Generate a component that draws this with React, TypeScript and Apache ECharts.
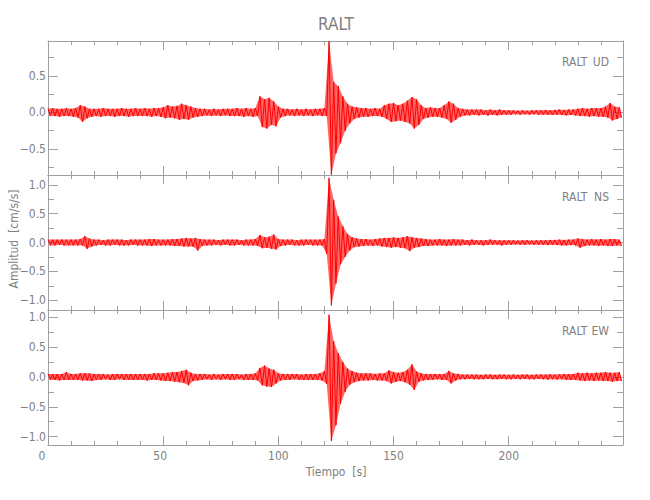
import React, { useEffect, useRef } from "react";
import * as echarts from "echarts";

// Envelope of each trace: peak (max) and trough (min) amplitude per 2-second window, t = 0, 2, 4 ... 248 s
const BIN_SECONDS = 2;

const UD_MAX = [
  0.05, 0.06, 0.05, 0.05, 0.06, 0.05, 0.06, 0.10, 0.08, 0.05,
  0.05, 0.05, 0.06, 0.05, 0.05, 0.05, 0.06, 0.05, 0.05, 0.06,
  0.05, 0.06, 0.05, 0.06, 0.06, 0.07, 0.10, 0.08, 0.09, 0.12,
  0.10, 0.08, 0.06, 0.05, 0.05, 0.04, 0.05, 0.04, 0.05, 0.05,
  0.05, 0.06, 0.05, 0.06, 0.05, 0.06, 0.22, 0.18, 0.20, 0.15,
  0.08, 0.05, 0.05, 0.04, 0.05, 0.04, 0.05, 0.04, 0.05, 0.05,
  0.06, 0.97, 0.42, 0.36, 0.22, 0.12, 0.08, 0.07, 0.06, 0.06,
  0.05, 0.06, 0.05, 0.10, 0.12, 0.13, 0.10, 0.12, 0.16, 0.21,
  0.18, 0.10, 0.06, 0.07, 0.06, 0.06, 0.10, 0.15, 0.12, 0.06,
  0.05, 0.04, 0.04, 0.04, 0.04, 0.03, 0.04, 0.03, 0.04, 0.03,
  0.03, 0.03, 0.025, 0.03, 0.025, 0.03, 0.03, 0.03, 0.035, 0.03,
  0.035, 0.04, 0.035, 0.04, 0.04, 0.05, 0.06, 0.05, 0.06, 0.06,
  0.06, 0.08, 0.13, 0.08, 0.07,
];
const UD_MIN = [
  -0.05, -0.05, -0.06, -0.05, -0.05, -0.06, -0.07, -0.13, -0.08, -0.06,
  -0.05, -0.06, -0.05, -0.05, -0.06, -0.05, -0.05, -0.06, -0.05, -0.05,
  -0.05, -0.05, -0.06, -0.05, -0.06, -0.08, -0.07, -0.08, -0.10, -0.09,
  -0.10, -0.07, -0.06, -0.05, -0.04, -0.05, -0.04, -0.05, -0.04, -0.05,
  -0.05, -0.05, -0.06, -0.05, -0.06, -0.05, -0.20, -0.22, -0.17, -0.19,
  -0.07, -0.05, -0.04, -0.05, -0.04, -0.05, -0.04, -0.05, -0.04, -0.05,
  -0.05, -0.85, -0.56, -0.42, -0.25, -0.15, -0.09, -0.07, -0.06, -0.06,
  -0.05, -0.05, -0.06, -0.09, -0.13, -0.12, -0.11, -0.13, -0.15, -0.22,
  -0.17, -0.09, -0.07, -0.06, -0.06, -0.07, -0.09, -0.14, -0.10, -0.06,
  -0.04, -0.04, -0.03, -0.04, -0.03, -0.04, -0.03, -0.04, -0.03, -0.03,
  -0.03, -0.025, -0.03, -0.025, -0.03, -0.025, -0.03, -0.03, -0.03, -0.035,
  -0.03, -0.035, -0.04, -0.035, -0.04, -0.05, -0.05, -0.06, -0.05, -0.06,
  -0.06, -0.07, -0.11, -0.09, -0.07,
];

const NS_MAX = [
  0.05, 0.05, 0.05, 0.05, 0.05, 0.05, 0.05, 0.06, 0.11, 0.07,
  0.05, 0.05, 0.04, 0.05, 0.05, 0.05, 0.05, 0.04, 0.05, 0.05,
  0.05, 0.05, 0.06, 0.06, 0.05, 0.05, 0.05, 0.06, 0.06, 0.07,
  0.08, 0.07, 0.08, 0.06, 0.05, 0.05, 0.05, 0.04, 0.05, 0.05,
  0.05, 0.05, 0.04, 0.05, 0.05, 0.06, 0.13, 0.09, 0.10, 0.14,
  0.06, 0.05, 0.05, 0.05, 0.04, 0.05, 0.05, 0.05, 0.05, 0.05,
  0.06, 1.12, 0.74, 0.45, 0.28, 0.15, 0.09, 0.07, 0.06, 0.06,
  0.05, 0.06, 0.07, 0.08, 0.08, 0.09, 0.08, 0.09, 0.11, 0.09,
  0.08, 0.07, 0.06, 0.05, 0.05, 0.06, 0.05, 0.05, 0.06, 0.05,
  0.05, 0.04, 0.05, 0.04, 0.04, 0.04, 0.05, 0.04, 0.04, 0.04,
  0.04, 0.04, 0.035, 0.04, 0.04, 0.035, 0.04, 0.04, 0.04, 0.045,
  0.045, 0.05, 0.045, 0.05, 0.05, 0.07, 0.06, 0.05, 0.06, 0.05,
  0.06, 0.05, 0.06, 0.06, 0.05,
];
const NS_MIN = [
  -0.05, -0.05, -0.04, -0.05, -0.05, -0.05, -0.05, -0.05, -0.11, -0.07,
  -0.05, -0.04, -0.05, -0.05, -0.04, -0.05, -0.05, -0.05, -0.04, -0.05,
  -0.05, -0.05, -0.06, -0.05, -0.05, -0.05, -0.05, -0.06, -0.06, -0.07,
  -0.07, -0.07, -0.14, -0.06, -0.05, -0.05, -0.04, -0.05, -0.04, -0.05,
  -0.05, -0.04, -0.05, -0.05, -0.05, -0.06, -0.10, -0.09, -0.11, -0.12,
  -0.06, -0.05, -0.04, -0.05, -0.05, -0.05, -0.04, -0.05, -0.05, -0.05,
  -0.20, -1.09, -0.71, -0.38, -0.25, -0.14, -0.08, -0.07, -0.06, -0.05,
  -0.06, -0.05, -0.07, -0.08, -0.09, -0.08, -0.09, -0.10, -0.15, -0.09,
  -0.08, -0.06, -0.06, -0.05, -0.05, -0.05, -0.06, -0.05, -0.05, -0.05,
  -0.04, -0.05, -0.04, -0.04, -0.05, -0.04, -0.04, -0.04, -0.05, -0.04,
  -0.04, -0.035, -0.04, -0.04, -0.035, -0.04, -0.04, -0.04, -0.045, -0.04,
  -0.045, -0.05, -0.05, -0.045, -0.05, -0.09, -0.06, -0.05, -0.05, -0.06,
  -0.05, -0.06, -0.06, -0.05, -0.06,
];

const EW_MAX = [
  0.05, 0.05, 0.05, 0.05, 0.08, 0.05, 0.05, 0.06, 0.06, 0.06,
  0.05, 0.05, 0.05, 0.04, 0.05, 0.05, 0.05, 0.05, 0.05, 0.05,
  0.05, 0.05, 0.05, 0.06, 0.06, 0.06, 0.07, 0.08, 0.08, 0.10,
  0.12, 0.07, 0.05, 0.05, 0.05, 0.04, 0.05, 0.04, 0.05, 0.05,
  0.05, 0.05, 0.04, 0.05, 0.05, 0.06, 0.15, 0.19, 0.14, 0.12,
  0.06, 0.05, 0.05, 0.05, 0.05, 0.04, 0.05, 0.05, 0.05, 0.06,
  0.10, 1.04, 0.60, 0.40, 0.25, 0.14, 0.10, 0.07, 0.06, 0.06,
  0.06, 0.05, 0.06, 0.06, 0.11, 0.08, 0.07, 0.08, 0.12, 0.21,
  0.09, 0.06, 0.05, 0.05, 0.05, 0.05, 0.05, 0.10, 0.06, 0.05,
  0.04, 0.04, 0.04, 0.04, 0.035, 0.04, 0.04, 0.035, 0.04, 0.04,
  0.035, 0.04, 0.035, 0.04, 0.04, 0.035, 0.04, 0.04, 0.04, 0.045,
  0.04, 0.045, 0.05, 0.05, 0.05, 0.07, 0.06, 0.07, 0.06, 0.07,
  0.07, 0.08, 0.07, 0.07, 0.08,
];
const EW_MIN = [
  -0.05, -0.05, -0.06, -0.05, -0.05, -0.05, -0.05, -0.06, -0.06, -0.07,
  -0.05, -0.05, -0.04, -0.05, -0.05, -0.04, -0.05, -0.05, -0.05, -0.05,
  -0.05, -0.06, -0.05, -0.05, -0.06, -0.07, -0.07, -0.08, -0.09, -0.10,
  -0.14, -0.07, -0.06, -0.05, -0.04, -0.05, -0.04, -0.05, -0.04, -0.05,
  -0.05, -0.04, -0.05, -0.05, -0.05, -0.06, -0.14, -0.16, -0.17, -0.11,
  -0.06, -0.05, -0.05, -0.04, -0.05, -0.05, -0.05, -0.05, -0.05, -0.06,
  -0.12, -1.07, -0.81, -0.45, -0.25, -0.13, -0.09, -0.07, -0.06, -0.06,
  -0.05, -0.06, -0.06, -0.07, -0.11, -0.08, -0.07, -0.09, -0.13, -0.22,
  -0.08, -0.06, -0.05, -0.05, -0.04, -0.05, -0.05, -0.11, -0.06, -0.04,
  -0.04, -0.035, -0.04, -0.04, -0.04, -0.035, -0.04, -0.04, -0.035, -0.04,
  -0.04, -0.035, -0.04, -0.035, -0.04, -0.04, -0.035, -0.04, -0.045, -0.04,
  -0.045, -0.04, -0.05, -0.05, -0.05, -0.06, -0.07, -0.06, -0.07, -0.06,
  -0.07, -0.07, -0.08, -0.07, -0.07,
];

const STATION = "RALT";
const COMPONENTS = ["UD", "NS", "EW"];
const ENVELOPE_MAX = [UD_MAX, NS_MAX, EW_MAX];
const ENVELOPE_MIN = [UD_MIN, NS_MIN, EW_MIN];

// axis ranges (amplitude extent of each trace) and ticks
const TIME_MAX = 249.6;
const Y_MIN = [-0.855, -1.17, -1.14];
const Y_MAX = [0.977, 1.17, 1.12];
const Y_LABELS = [
  [-0.5, 0, 0.5],
  [-1, -0.5, 0, 0.5, 1],
  [-1, -0.5, 0, 0.5, 1],
];
const Y_MINOR = [
  [-0.75, -0.5, -0.25, 0, 0.25, 0.5, 0.75],
  [-1, -0.75, -0.5, -0.25, 0, 0.25, 0.5, 0.75, 1],
  [-1, -0.75, -0.5, -0.25, 0, 0.25, 0.5, 0.75, 1],
];
const X_LABELS = [0, 50, 100, 150, 200];
const X_MINOR = [0, 10, 20, 30, 40, 50, 60, 70, 80, 90, 100, 110, 120, 130, 140, 150, 160, 170, 180, 190, 200, 210, 220, 230, 240];

const TITLE = "RALT";
const Y_NAME = "Amplitud  [cm/s/s]";
const X_NAME = "Tiempo  [s]";

const FONT = "'Liberation Sans Narrow', 'DejaVu Sans Condensed', 'Liberation Sans', sans-serif";
const TEXT_COLOR = "#808080";
const AXIS_COLOR = "#a0a0a0";
const TRACE_COLOR = "#ff0000";
const BAND_COLOR = "rgba(255,0,0,0.6)";

const GRID_LEFT = 48;
const GRID_WIDTH = 575;
const GRID_TOPS = [41, 175, 310];
const GRID_HEIGHTS = [134, 135, 135];

function envelopeTrace(mx: number[], mn: number[]) {
  const out: number[][] = [];
  mx.forEach((v, i) => {
    out.push([i * BIN_SECONDS, v]);
    out.push([i * BIN_SECONDS + BIN_SECONDS / 2, mn[i]]);
  });
  return out;
}

function fmtY(v: number) {
  return (v < 0 ? "\u2212" : "") + Math.abs(v).toFixed(1);
}

export default function App() {
  const ref = useRef<HTMLDivElement>(null);

  useEffect(() => {
    document.body.style.margin = "0";
    if (!ref.current) return;
    const chart = echarts.init(ref.current, null, { renderer: "svg" });

    const grids: any[] = [];
    const xAxes: any[] = [];
    const yAxes: any[] = [];
    const series: any[] = [];

    COMPONENTS.forEach((comp, g) => {
      grids.push({
        left: GRID_LEFT,
        width: GRID_WIDTH,
        top: GRID_TOPS[g],
        height: GRID_HEIGHTS[g],
        containLabel: false,
        outerBoundsMode: "none",
      });

      const xBase = {
        type: "value",
        gridIndex: g,
        min: 0,
        max: TIME_MAX,
        splitLine: { show: false },
        axisLabel: { show: false },
      };
      const xIdx = xAxes.length;
      const isLast = g === COMPONENTS.length - 1;
      xAxes.push({
        ...xBase,
        position: "bottom",
        axisLine: { show: true, onZero: false, lineStyle: { color: AXIS_COLOR, width: 1 } },
        axisTick: { show: true, inside: true, length: 9, customValues: X_LABELS, lineStyle: { color: AXIS_COLOR } },
        axisLabel: isLast
          ? {
              show: true,
              customValues: X_LABELS,
              margin: 5,
              color: TEXT_COLOR,
              fontSize: 12,
              fontFamily: FONT,
              formatter: (v: number) => (v === 0 ? "{a|0}" : v === 50 ? "{b|50}" : String(v)),
              rich: {
                a: { padding: [0, 12, 0, 0], color: TEXT_COLOR, fontSize: 12, fontFamily: FONT },
                b: { padding: [0, 6, 0, 0], color: TEXT_COLOR, fontSize: 12, fontFamily: FONT },
              },
            }
          : { show: false },
      });
      xAxes.push({
        ...xBase,
        position: "bottom",
        axisLine: { show: false, onZero: false },
        axisTick: { show: true, inside: true, length: 4, customValues: X_MINOR, lineStyle: { color: AXIS_COLOR } },
      });
      xAxes.push({
        ...xBase,
        position: "top",
        axisLine: { show: true, onZero: false, lineStyle: { color: AXIS_COLOR, width: 1 } },
        axisTick: { show: true, inside: true, length: 9, customValues: X_LABELS, lineStyle: { color: AXIS_COLOR } },
      });
      xAxes.push({
        ...xBase,
        position: "top",
        axisLine: { show: false, onZero: false },
        axisTick: { show: true, inside: true, length: 4, customValues: X_MINOR, lineStyle: { color: AXIS_COLOR } },
      });

      const yBase = {
        type: "value",
        gridIndex: g,
        min: Y_MIN[g],
        max: Y_MAX[g],
        splitLine: { show: false },
        axisLabel: { show: false },
      };
      const yIdx = yAxes.length;
      yAxes.push({
        ...yBase,
        position: "left",
        axisLine: { show: true, onZero: false, lineStyle: { color: AXIS_COLOR, width: 1 } },
        axisTick: { show: true, inside: true, length: 10, customValues: Y_LABELS[g], lineStyle: { color: AXIS_COLOR } },
        axisLabel: {
          show: true,
          customValues: Y_LABELS[g],
          margin: 2,
          color: TEXT_COLOR,
          fontSize: 12,
          fontFamily: FONT,
          formatter: fmtY,
        },
      });
      yAxes.push({
        ...yBase,
        position: "left",
        axisLine: { show: false, onZero: false },
        axisTick: { show: true, inside: true, length: 6, customValues: Y_MINOR[g], lineStyle: { color: AXIS_COLOR } },
      });
      yAxes.push({
        ...yBase,
        position: "right",
        axisLine: { show: true, onZero: false, lineStyle: { color: AXIS_COLOR, width: 1 } },
        axisTick: { show: true, inside: true, length: 10, customValues: Y_LABELS[g], lineStyle: { color: AXIS_COLOR } },
      });
      yAxes.push({
        ...yBase,
        position: "right",
        axisLine: { show: false, onZero: false },
        axisTick: { show: true, inside: true, length: 6, customValues: Y_MINOR[g], lineStyle: { color: AXIS_COLOR } },
      });

      const trace = envelopeTrace(ENVELOPE_MAX[g], ENVELOPE_MIN[g]);
      const upper = trace.filter((_, i) => i % 2 === 0);
      const lower = trace.filter((_, i) => i % 2 === 1);

      // filled envelope band
      series.push({
        type: "custom",
        name: STATION + " " + comp + " envelope",
        xAxisIndex: xIdx,
        yAxisIndex: yIdx,
        silent: true,
        clip: true,
        data: [0],
        renderItem: (_params: any, api: any) => {
          const pts: number[][] = [];
          upper.forEach((p) => pts.push(api.coord(p)));
          for (let i = lower.length - 1; i >= 0; i--) pts.push(api.coord(lower[i]));
          return {
            type: "polygon",
            shape: { points: pts },
            style: { fill: BAND_COLOR, stroke: "none" },
          };
        },
      });

      // min/max trace
      series.push({
        type: "line",
        name: STATION + " " + comp,
        xAxisIndex: xIdx,
        yAxisIndex: yIdx,
        data: trace,
        showSymbol: false,
        symbol: "none",
        silent: true,
        clip: true,
        lineStyle: { color: TRACE_COLOR, width: 1 },
      });
    });

    const panelLabelY = [61.5, 196.5, 331];
    const graphics: any[] = [
      {
        type: "text",
        x: 336,
        y: 24,
        style: { text: TITLE, fill: TEXT_COLOR, fontSize: 17, fontFamily: FONT, align: "center", verticalAlign: "middle" },
      },
      {
        type: "text",
        x: 14,
        y: 239,
        rotation: Math.PI / 2,
        style: { text: Y_NAME, fill: TEXT_COLOR, fontSize: 12, fontFamily: FONT, align: "center", verticalAlign: "middle" },
      },
      {
        type: "text",
        x: 336,
        y: 472,
        style: { text: X_NAME, fill: TEXT_COLOR, fontSize: 12, fontFamily: FONT, align: "center", verticalAlign: "middle" },
      },
    ];
    COMPONENTS.forEach((comp, g) => {
      graphics.push({
        type: "text",
        x: 562,
        y: panelLabelY[g],
        style: { text: STATION, fill: TEXT_COLOR, fontSize: 12, fontFamily: FONT, align: "left", verticalAlign: "middle" },
      });
      graphics.push({
        type: "text",
        x: 609,
        y: panelLabelY[g],
        style: { text: comp, fill: TEXT_COLOR, fontSize: 12, fontFamily: FONT, align: "right", verticalAlign: "middle" },
      });
    });

    chart.setOption({
      animation: false,
      backgroundColor: "#ffffff",
      grid: grids,
      xAxis: xAxes,
      yAxis: yAxes,
      series,
      graphic: graphics,
    });

    return () => chart.dispose();
  }, []);

  return (
    <div
      ref={ref}
      style={{ position: "fixed", left: 0, top: 0, width: 650, height: 500, background: "#fff" }}
    />
  );
}
